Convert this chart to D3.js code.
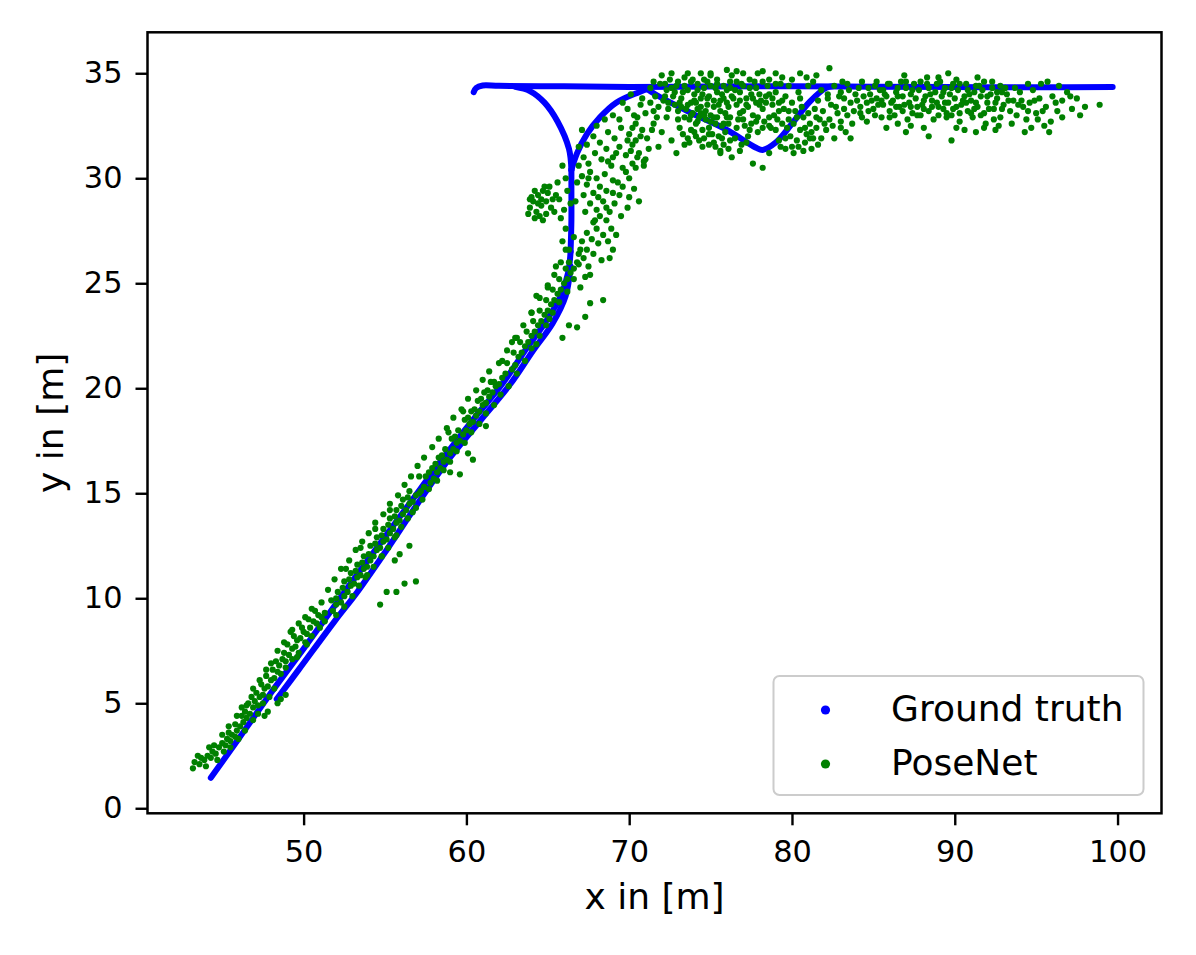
<!DOCTYPE html>
<html>
<head>
<meta charset="utf-8">
<script src="https://cdn.jsdelivr.net/npm/d3@7"></script>
<style>
  body { margin: 0; background: #fff; }
  svg { display: block; font-family: "DejaVu Sans", sans-serif; }
</style>
</head>
<body>
<div id="chartContainer"></div>
<script>
// Ground truth trajectory vs. PoseNet estimates (x/y in metres).
const xTicks = [50, 60, 70, 80, 90, 100];
const yTicks = [0, 5, 10, 15, 20, 25, 30, 35];
const seriesNames = ["Ground truth", "PoseNet"];

// Ground truth track pieces.
const gtDiagA = [[44.3,1.45],[46.0,3.3],[48.0,5.5],[50.0,7.6],[51.5,9.2],[52.7,10.5],[54.5,12.4],[56.5,14.5],[58.5,16.6],[60.4,18.5],[62.2,20.2],[63.7,21.9],[64.9,23.2],[65.8,24.4],[66.25,25.5],[66.4,26.5]];
const gtDiagB = [[48.35,5.2],[49.7,6.6],[51.9,8.9],[53.3,10.3],[55.1,12.3],[57.0,14.5],[59.0,16.7],[60.9,18.5],[62.7,20.2],[64.1,21.8],[65.3,23.1],[66.1,24.4],[66.4,25.8]];
const gtStem = [[66.4,26.5],[66.45,28.0],[66.45,29.5],[66.45,30.4]];
const gtLeftBranch = [[66.45,30.4],[66.3,31.4],[65.6,32.7],[64.8,33.6],[63.9,34.15],[63.0,34.35]];
const gtRightBranch = [[66.45,30.4],[66.8,31.2],[67.4,32.1],[68.2,32.9],[69.2,33.6],[70.6,34.1],[71.3,34.3]];
const gtTopLine = [[60.45,34.1],[60.6,34.3],[61.0,34.42],[62.0,34.4],[66.0,34.38],[70.0,34.35],[75.0,34.37],[80.0,34.38],[85.0,34.36],[90.0,34.34],[95.0,34.33],[99.7,34.35]];
const gtDip = [[71.1,34.25],[71.6,34.0],[73.7,33.15],[76.0,32.3],[77.8,31.45],[78.2,31.35],[79.0,31.7],[80.1,32.7],[81.1,33.65],[82.1,34.3],[82.5,34.38]];

// PoseNet estimates, grouped by stretch of the route.
const poseDiagLow = [[43.2,1.9],[43.3,2.2],[43.6,2.1],[43.7,2.4],[43.9,2.3],[44.1,2.5],[44.3,2.4],[44.4,2.7],[44.6,2.6],[44.8,2.9],[44.5,3.0],[45.0,3.1],[45.2,3.0],[45.3,3.3],[45.5,3.2],[45.6,3.5],[45.4,3.6],[45.8,3.4],[45.9,3.7],[46.1,3.9],[45.8,4.0],[46.3,4.1],
  [46.2,4.4],[46.5,4.3],[46.4,4.6],[46.7,4.5],[46.9,4.8],[46.6,5.0],[47.0,5.1],[47.2,4.9],[47.3,5.3],[47.1,5.5],[47.5,5.4],[47.6,5.7],[47.4,5.9],[47.8,5.8],[48.0,6.1],[47.7,6.3],[48.2,6.2],[48.4,6.5],[46.5,4.9],[47.6,4.4],[47.8,4.6],[48.4,5.0],[48.9,5.4],[48.6,5.2],
  [48.1,6.6],[48.5,6.8],[48.3,7.0],[48.7,7.1],[48.9,7.0],[48.8,7.4],[49.1,7.3],[49.3,7.6],[49.0,7.8],[49.5,7.7],[49.6,8.0],[49.4,8.2],[49.8,8.1],[50.0,8.4],[50.2,8.3],[49.9,8.6],[50.4,8.6],[50.6,8.9],[50.3,9.0],[50.8,8.8],[50.9,9.2],[51.1,9.1],[50.7,9.4],[49.2,8.4],[50.1,7.9],[49.6,7.2],
  [43.5,2.5],[44.0,2.0],[44.7,2.3],[45.1,2.7],[44.2,2.9],[45.5,2.9],[45.0,3.5],[46.0,3.3],[46.4,3.7],[45.4,3.9],
  [45.9,4.4],[46.2,4.8],[46.9,4.2],[47.2,4.5],[46.8,5.3],[47.5,5.0],[46.9,5.7],[47.9,5.3],[47.3,6.1],[48.2,5.7],[47.7,6.6],
  [48.0,6.9],[48.6,6.4],[48.9,6.7],[48.4,7.5],[49.3,7.1],[48.8,7.9],[49.7,7.4],[49.3,8.5],[50.2,7.8],[49.7,8.8],[50.5,8.2],[50.1,9.1],[51.0,8.6],[50.5,9.5],[51.3,8.9]];
const poseDiagMid = [[51.3,9.3],[51.8,9.4],[52.0,9.7],[51.7,9.9],[52.3,9.8],[52.5,10.1],[52.1,10.3],[52.7,10.3],[52.9,10.6],[52.5,10.8],[53.1,10.7],[53.3,11.0],[52.9,11.2],[53.5,11.1],[53.7,11.4],[53.3,11.6],[53.9,11.5],[54.1,11.8],[53.7,12.0],[54.3,12.0],[54.5,12.3],[54.1,12.5],[54.7,12.4],[54.9,12.7],[54.5,12.9],[55.1,12.8],[55.3,13.1],[54.9,13.3],[55.5,13.3],[55.7,13.6],[55.3,13.8],[55.9,13.7],[56.1,14.0],[55.7,14.2],[56.3,14.2],[56.5,14.5],[56.1,14.7],[56.7,14.6],[56.9,14.9],[56.5,15.1],[57.1,15.0],
  [52.0,10.0],[52.4,10.5],[52.8,10.9],[53.2,11.3],[53.6,11.7],[54.0,12.1],[54.4,12.6],[54.8,13.0],[55.2,13.5],[55.6,13.9],[56.0,14.4],[56.4,14.8],[52.6,11.4],[53.5,12.4],[54.4,13.3],[55.3,14.2],[53.9,11.1],[54.8,12.0],[55.7,13.0],[56.7,14.1],
  [51.1,9.8],[52.0,9.2],[51.5,10.4],[52.5,9.6],[51.9,10.9],[53.0,10.1],[52.3,11.4],[53.4,10.6],[52.8,11.8],[53.8,11.0],[53.2,12.3],[54.3,11.5],[53.6,12.7],[54.8,12.0],[54.0,13.1],[55.2,12.4],[54.4,13.6],[55.6,12.9],[54.9,14.0],[56.0,13.4],[55.3,14.5],[56.4,13.8],[55.8,14.9],[56.9,14.3],[56.2,15.4],[57.3,14.7],
  [54.7,9.7],[55.1,10.3],[55.7,10.3],[56.2,10.7],[56.9,10.8],[56.5,12.5],[55.9,12.1],[55.6,11.8]];
const poseDiagHigh = [[57.4,15.3],[57.8,15.5],[57.5,15.8],[58.0,15.7],[58.2,16.0],[57.9,16.2],[58.4,16.2],[58.6,16.5],[58.3,16.7],[58.8,16.6],[59.0,16.9],[58.7,17.1],[59.2,17.1],[59.4,17.4],[59.1,17.6],[59.6,17.5],[59.8,17.8],[59.5,18.0],[60.0,18.0],[60.2,18.3],[59.9,18.5],[60.4,18.4],[60.6,18.7],[60.3,18.9],[60.8,18.9],[61.0,19.2],[60.7,19.4],[61.2,19.3],[61.4,19.6],[61.1,19.8],[61.6,19.8],[61.8,20.1],[61.5,20.3],[62.0,20.2],[62.2,20.5],
  [57.7,16.0],[58.5,16.8],[59.3,17.7],[60.1,18.6],[60.9,19.5],[61.7,20.3],[58.9,17.9],[59.8,18.9],[57.2,15.1],[61.3,19.9],[60.5,19.0],[58.1,16.4],
  [56.6,15.8],[57.7,15.2],[57.0,16.3],[58.2,15.6],[57.4,16.7],[58.6,16.1],[57.9,17.2],[59.0,16.5],[58.3,17.6],[59.4,17.0],[58.8,18.1],[59.9,17.4],[59.2,18.6],[60.3,17.9],[59.7,19.0],[60.8,18.3],[60.1,19.5],[61.2,18.8],[60.6,19.9],[61.7,19.2],[61.0,20.4],[62.1,19.7],[61.4,20.8],[62.6,20.1],
  [59.6,15.9],[60.4,16.6],[60.1,16.9],[59.0,16.0],[61.2,18.2],[57.1,15.8]];
const poseBend = [[62.4,20.7],[62.8,20.9],[62.5,21.2],[63.0,21.1],[63.2,21.5],[62.9,21.7],[63.4,21.7],[63.6,22.0],[63.3,22.2],[63.8,22.2],[64.0,22.5],[63.7,22.7],[64.2,22.7],[64.4,23.0],[64.1,23.2],[64.6,23.2],[64.8,23.5],[64.5,23.7],[65.0,23.7],[65.2,24.0],[64.9,24.2],[65.4,24.2],[65.6,24.5],[65.3,24.7],[65.8,24.7],[66.0,25.0],[65.7,25.2],[66.2,25.2],[66.4,25.5],[66.1,25.7],[66.6,25.7],[66.3,26.0],[66.8,26.0],[62.2,21.3],[63.1,22.4],[64.0,23.6],[65.0,24.9],[65.5,25.8],[64.3,22.1],[65.1,23.3],
  [62.0,21.2],[63.1,20.7],[62.5,21.8],[63.6,21.3],[63.0,22.4],[64.0,21.9],[63.5,23.0],[64.5,22.5],[64.0,23.6],[64.9,23.0],[64.5,24.3],[65.3,23.6],[65.0,24.8],[65.7,24.1],[65.4,25.4],[66.2,24.6],[65.8,26.0],[66.6,25.2],[66.1,26.6],[66.9,26.4],
  [67.3,25.3],[68.4,24.2],[67.6,24.05],[67.3,23.4],[67.0,24.8],[66.3,23.0],[65.9,22.4],[66.8,22.9],[64.3,24.4],[62.8,22.2],
  [63.9,28.6],[64.1,28.9],[64.3,28.4],[64.4,29.2],[64.6,28.7],[64.7,29.4],[64.9,28.9],[65.0,29.3],[65.2,28.6],[64.2,29.4],[64.5,28.2],[65.3,29.0],[64.0,29.1],[64.8,29.6],[63.8,28.3],
  [64.2,28.1],[64.6,29.0],[64.9,28.3],[65.1,29.6],[64.4,28.8],[63.9,29.0],[65.4,28.4],[64.7,28.0],[65.5,29.2],
  [65.9,27.0],[66.1,27.6],[65.8,28.1],[66.0,28.5],[65.7,29.0],[66.2,29.4],[66.4,28.8],[66.1,30.0],[65.6,29.8],[66.6,27.2],[66.3,26.6],[65.9,30.6],
  [66.9,25.9],[67.2,26.2],[67.5,25.8],[67.4,26.6],[67.8,26.4],[68.1,26.9],[67.7,27.1],[68.4,27.3],[68.0,27.6],[68.7,27.0],[68.3,26.1],[67.1,27.0],[68.9,27.6],[69.2,27.3],[68.6,28.0],[67.9,28.0],[69.0,26.6],[67.6,25.4],
  [67.3,28.4],[67.6,28.8],[68.0,28.5],[68.4,28.9],[68.8,28.4],[69.1,28.8],[69.4,29.2],[68.6,29.4],[68.2,29.6],[67.8,29.3],[67.4,29.7],[67.1,30.1],[67.6,30.3],[68.0,30.0],[68.5,30.2],[69.0,29.9],[69.6,29.6],[70.0,29.1],[70.3,29.5],[70.6,28.9],[69.8,30.3],[70.4,30.5],
  [66.9,30.6],[67.2,31.0],[67.5,30.7],[67.9,31.2],[68.3,30.9],[68.6,31.4],[69.0,31.0],[69.4,31.5],[69.8,31.1],[70.2,31.6],[70.6,31.2],[67.4,31.6],[67.8,32.0],[68.2,31.7],[68.7,32.2],[69.1,31.9],[69.5,32.4],[70.0,32.1],[70.4,32.6],[70.8,32.3],[68.0,32.5],[68.5,32.8],[69.0,33.0],[69.4,32.8],[69.9,33.3],[70.3,33.0],[70.7,33.5],[71.0,33.1],[67.1,32.3],[66.9,31.5],[71.1,31.9],[70.9,30.8],
  [70.2,30.7],[70.5,31.0],[70.9,30.6],[71.2,31.4],[70.4,31.8],[70.7,32.0],[71.0,30.9],[70.1,31.3],
  [67.0,26.6],[67.4,27.4],[67.8,27.9],[68.2,28.2],[68.6,28.6],[69.0,29.3],[69.3,29.8],[69.6,30.5],[68.9,30.6],[69.2,31.2],[69.9,31.8],[70.2,32.4],[70.5,32.9],[70.8,33.8],[71.3,33.6],[69.6,33.6],[70.1,34.0],[71.5,33.2],[68.8,26.2],[69.5,28.2],[69.9,28.6],[67.2,29.2],[66.7,28.9],[66.8,29.8],[67.5,30.0],[68.1,29.1],[68.7,30.8],[70.0,30.0],[71.4,32.3],[71.7,32.9]];
const poseTop = [[71.3,34.3],[71.6,33.9],[71.9,34.5],[72.1,33.7],[72.3,34.2],[72.5,34.7],[72.7,33.9],[72.9,34.4],[73.1,33.6],[73.3,34.1],[71.8,33.4],[72.4,33.3],[73.0,33.2],[72.0,34.9],[72.6,35.0],[73.4,34.8],[71.5,34.6],[72.2,33.9],[72.8,34.1],[73.2,33.4],
  [73.6,34.2],[73.8,33.6],[74.0,34.0],[74.2,33.3],[74.4,33.8],[74.6,34.3],[74.8,33.5],[75.0,33.0],[75.2,33.7],[75.4,34.1],[75.6,33.2],[75.8,33.8],[76.0,32.9],[73.7,32.8],[73.9,33.1],[74.1,32.6],[74.3,32.9],[74.5,32.3],[74.7,32.8],[74.9,32.4],[75.1,32.1],[75.3,32.6],[75.5,32.0],[75.7,32.5],[75.9,32.2],[76.1,33.4],[74.0,32.2],[74.6,31.9],[75.2,31.7],[75.8,31.6],[73.5,33.3],[74.2,34.5],[74.8,34.6],[75.4,34.7],[76.0,34.2],[73.9,34.7],[75.0,34.9],[76.2,34.6],[74.4,33.1],[74.9,33.9],[75.5,33.5],[76.1,32.6],[73.8,32.3],[74.3,31.8],[74.7,33.2],[75.2,32.9],[75.7,34.0],[76.3,33.9],[74.1,33.6],[75.9,33.1],[73.6,31.9],[74.5,34.0],[75.3,34.3],[74.9,31.6],[75.6,31.3],[76.2,31.8],[76.0,35.16],[75.0,35.0],
  [76.6,33.5],[76.8,34.1],[77.0,33.2],[77.2,33.8],[77.4,34.3],[77.6,33.0],[77.8,33.6],[78.0,34.0],[78.2,33.3],[78.4,33.9],[78.6,32.9],[78.8,33.5],[79.0,34.1],[79.2,33.2],[79.4,33.7],[76.7,32.8],[77.1,32.5],[77.5,32.6],[77.9,32.2],[78.3,32.7],[78.7,32.4],[79.1,32.8],[76.9,34.5],[77.7,34.6],[78.5,34.4],[79.3,34.5],[77.3,33.4],[78.1,33.7],[78.9,33.0],[76.5,34.2],[77.5,34.0],[78.6,34.0],[79.5,33.3],[76.8,33.1],[77.9,32.9],
  [78.2,35.1],[77.0,35.0],[79.0,35.0],[76.6,35.1],[80.5,35.0],
  [79.9,32.0],[80.1,32.6],[80.3,31.8],[80.5,32.3],[80.7,32.9],[80.9,32.1],[81.1,32.6],[81.3,31.9],[81.5,32.4],[80.2,33.2],[80.6,33.4],[81.0,33.1],[81.4,33.3],[80.4,31.5],[80.8,31.7],[81.2,31.4],[79.7,32.4],[81.7,32.8],[80.0,31.5],[81.6,31.6],[79.6,31.9],
  [77.6,30.7],[78.2,30.5],[76.8,31.3],[77.2,31.7],[78.6,31.2],[79.3,31.5],[76.3,31.0],[75.6,31.2],
  [82.3,35.24],[81.5,34.9],[80.0,34.7],[81.0,34.4],[80.4,34.1],[79.8,34.4],[81.8,34.2],[82.2,33.8],[81.6,33.7],
  [71.5,32.6],[72.0,32.2],[72.6,31.8],[73.1,32.4],[71.8,31.5],[72.9,31.2],[73.4,31.6],[72.3,32.9],
  [72.2,34.5],[72.6,34.3],[73.0,34.6],[73.4,34.4],[73.8,34.6],[74.2,34.2],[74.6,34.7],[75.0,34.4],[75.4,34.5],[75.8,34.4],[76.2,34.3],[76.6,34.6],[77.0,34.4],[77.4,34.7],[77.8,34.3],[78.2,34.6],[78.6,34.7],[79.0,34.5],
  [72.4,33.6],[72.8,33.5],[73.2,33.8],[73.6,33.5],[74.0,33.7],[74.4,33.4],[74.8,33.8],[75.2,33.4],[75.6,33.7],[76.0,33.6],[76.4,33.8],[76.8,33.7],[77.2,33.5],[77.6,33.8],[78.0,33.5],[78.4,33.6],[78.8,33.8],[79.2,33.6],[79.6,33.9],[80.0,33.6],
  [73.0,32.8],[73.4,32.9],[73.8,33.0],[74.2,32.7],[74.6,33.0],[75.0,32.7],[75.4,32.9],[75.8,32.6],[76.2,32.9],[76.6,32.4],[77.0,32.8],[77.4,32.3],[77.8,32.7],[78.2,32.4],[78.6,32.5],[79.0,32.3],[79.4,32.6],[79.8,32.8],
  [73.3,32.1],[73.7,31.7],[74.1,32.0],[74.5,31.5],[74.9,32.1],[75.3,31.5],[75.7,31.9],[76.1,31.4],[76.5,31.9],[76.9,31.6],[77.3,32.0],[79.2,31.8],[79.6,31.4],[80.1,31.2],[80.7,31.3],[81.1,31.9],[81.5,32.9],[80.3,32.9],[80.8,32.4],[81.2,32.2],[79.8,33.2],[80.5,33.8],[81.3,34.6],[80.9,34.8],[79.4,34.8],[77.9,35.0],[76.3,34.9],[74.4,35.0],[73.6,35.0],[81.9,33.2],[82.0,32.6],[81.8,31.9]];
const poseRight = [[82.1,32.3],[82.3,32.8],[82.5,32.5],[82.8,33.1],[83.0,32.7],[83.2,33.3],[83.4,33.0],[83.6,33.6],[83.8,33.2],[84.0,33.7],[84.2,33.4],[84.4,33.9],[82.4,33.5],[82.9,33.9],[83.5,34.2],[84.1,34.3],[82.2,34.0],[83.1,34.6],[82.6,31.9],[83.3,32.2],[84.3,32.9],
  [84.6,33.6],[84.8,34.0],[85.0,33.3],[85.2,33.8],[85.4,34.2],[85.6,33.5],[85.8,33.9],[86.0,33.2],[86.2,33.7],[86.4,34.1],[86.6,33.4],[86.8,33.9],[87.0,34.3],[87.2,33.6],[87.4,33.1],[87.6,33.8],[87.8,34.2],[88.0,33.5],[88.2,33.9],[88.4,33.2],[88.6,33.7],[88.8,34.1],[89.0,33.4],[89.2,33.9],[89.4,34.3],[89.6,33.6],[89.8,33.0],[90.0,33.8],[90.2,34.2],[90.4,33.5],[90.6,33.9],[90.8,33.2],[91.0,33.7],[91.2,34.1],[91.4,33.4],[91.6,33.9],[91.8,33.1],[92.0,33.6],[92.2,34.0],[92.4,33.3],[92.6,33.8],[92.8,32.9],[93.0,33.5],[93.2,34.0],[93.4,33.2],
  [84.7,33.2],[85.1,34.4],[85.5,32.9],[85.9,34.5],[86.3,33.0],[86.7,34.6],[87.1,32.8],[87.5,34.5],[87.9,33.0],[88.3,34.5],[88.7,32.8],[89.1,34.6],[89.5,32.9],[89.9,34.5],[90.3,32.7],[90.7,34.5],[91.1,32.9],[91.5,34.4],[91.9,32.6],[92.3,34.3],[92.7,32.5],[93.1,34.3],
  [84.9,33.7],[85.3,33.5],[85.7,34.0],[86.1,33.6],[86.5,33.9],[86.9,33.5],[87.3,34.0],[87.7,33.4],[88.1,33.7],[88.5,34.0],[88.9,33.6],[89.3,33.3],[89.7,34.0],[90.1,33.4],[90.5,33.7],[90.9,34.0],[91.3,33.6],[91.7,34.2],[92.1,33.3],[92.5,33.6],[92.9,34.1],[89.0,34.8],[89.6,35.0],[90.1,34.7],[88.3,34.8],[91.4,34.8],[86.9,34.9],
  [89.8,31.8],[88.1,32.4],[90.6,32.3],[91.8,32.4],[87.3,32.5],[92.5,32.3],[86.5,32.6],
  [93.6,33.7],[93.8,33.0],[94.0,34.1],[94.2,33.4],[94.4,32.8],[94.6,33.6],[94.8,34.2],[95.0,33.1],[95.2,33.8],[95.3,34.5],[95.5,32.5],[95.8,32.2],[95.6,33.4],[96.0,33.9],[96.3,33.2],[96.6,33.7],[96.9,34.1],[97.2,33.3],[97.7,33.0],[98.0,33.4],[98.9,33.5],[96.4,34.4],[95.1,32.8],[94.7,32.4],[97.5,33.8],
  [82.6,34.4],[83.0,34.1],[83.4,34.5],[83.9,34.0],[84.3,34.6],[84.7,34.3],[85.2,34.6],[85.6,34.2],[86.0,34.5],[86.5,34.3],[87.0,34.6],[87.4,34.2],[87.9,34.6],[88.4,34.3],[88.9,34.5],[89.3,34.1],[89.8,34.3],[90.3,34.5],[90.8,34.2],[91.3,34.4],[91.8,34.6],[92.3,34.6],[92.8,34.4],
  [82.7,33.4],[83.2,33.8],[83.7,32.6],[84.2,33.1],[84.6,32.7],[85.1,33.0],[85.5,33.7],[86.0,32.9],[86.4,33.4],[86.8,33.2],[87.3,33.4],[87.7,33.0],[88.1,33.3],[88.6,33.4],[89.0,33.0],[89.4,33.6],[89.9,33.3],[90.3,33.1],[90.7,33.6],[91.2,33.3],[91.6,33.0],[92.0,33.9],[92.4,32.8],[92.9,33.3],[93.3,33.7],[93.7,34.3],[94.1,33.7],[94.5,33.2],[94.9,33.7],
  [83.0,32.4],[83.6,31.9],[85.8,32.4],[87.0,32.2],[88.4,32.0],[90.1,32.4],[91.3,32.2],[93.5,32.6],[94.3,32.2],[95.4,33.2],[95.9,32.7],[96.6,32.9],[97.1,33.9],[95.7,34.6],[94.5,34.5],[96.2,33.6],[93.9,33.5],[92.6,34.1],[91.0,33.1],[89.5,33.1]];

const gtColor = "#0000ff";
const poseColor = "#008000";

// Layout of the axes box inside the 1196x955 page.
const W = 1196, H = 955;
const plot = { left: 147.5, right: 1161.5, top: 32.3, bottom: 813.3 };

const svg = d3.select("#chartContainer")
    .append("svg")
    .attr("width", W)
    .attr("height", H);

svg.append("rect").attr("width", W).attr("height", H).attr("fill", "#fff");

const x = d3.scaleLinear().domain([40.41, 102.70]).range([plot.left, plot.right]);
const y = d3.scaleLinear().domain([-0.24, 36.95]).range([plot.bottom, plot.top]);

// Ground truth: dense scatter in the original, drawn here as thick strokes.
const line = d3.line()
    .x(d => x(d[0]))
    .y(d => y(d[1]))
    .curve(d3.curveCatmullRom.alpha(0.5));

const gtPieces = [gtDiagA, gtDiagB, gtStem, gtLeftBranch, gtRightBranch, gtTopLine, gtDip];
svg.append("g")
    .selectAll("path")
    .data(gtPieces)
    .enter()
    .append("path")
    .attr("d", line)
    .attr("fill", "none")
    .attr("stroke", gtColor)
    .attr("stroke-width", 6)
    .attr("stroke-linecap", "round")
    .attr("stroke-linejoin", "round");

// PoseNet points on top.
const posePoints = [].concat(poseDiagLow, poseDiagMid, poseDiagHigh, poseBend, poseTop, poseRight);
svg.append("g")
    .selectAll("circle")
    .data(posePoints)
    .enter()
    .append("circle")
    .attr("cx", d => x(d[0]))
    .attr("cy", d => y(d[1]))
    .attr("r", 3.1)
    .attr("fill", poseColor);

// Axes.
const xAxis = d3.axisBottom(x).tickValues(xTicks).tickSize(12).tickPadding(15);
const gx = svg.append("g")
    .attr("transform", `translate(0,${plot.bottom})`)
    .call(xAxis);

const yAxis = d3.axisLeft(y).tickValues(yTicks).tickSize(12).tickPadding(13);
const gy = svg.append("g")
    .attr("transform", `translate(${plot.left},0)`)
    .call(yAxis);

[gx, gy].forEach(g => {
    g.select(".domain").remove();
    g.selectAll("line").attr("stroke", "#000").attr("stroke-width", 2.4);
    g.selectAll("text")
        .attr("fill", "#000")
        .style("font-family", "DejaVu Sans")
        .style("font-size", "30.4px");
});

// Frame around the plot.
svg.append("rect")
    .attr("x", plot.left)
    .attr("y", plot.top)
    .attr("width", plot.right - plot.left)
    .attr("height", plot.bottom - plot.top)
    .attr("fill", "none")
    .attr("stroke", "#000")
    .attr("stroke-width", 2.5);

// Axis labels.
svg.append("text")
    .attr("x", (plot.left + plot.right) / 2)
    .attr("y", 909)
    .attr("text-anchor", "middle")
    .style("font-size", "36px")
    .text("x in [m]");

svg.append("text")
    .attr("transform", `translate(63,${(plot.top + plot.bottom) / 2}) rotate(-90)`)
    .attr("text-anchor", "middle")
    .style("font-size", "36px")
    .text("y in [m]");

// Legend box in the lower right corner.
const legend = svg.append("g");
legend.append("rect")
    .attr("x", 773.5)
    .attr("y", 676)
    .attr("width", 370)
    .attr("height", 119)
    .attr("rx", 6)
    .attr("fill", "#fff")
    .attr("fill-opacity", 0.8)
    .attr("stroke", "#cccccc")
    .attr("stroke-width", 2);

const legendColors = [gtColor, poseColor];
seriesNames.forEach((name, i) => {
    const cy = 710 + i * 54;
    legend.append("circle")
        .attr("cx", 825.5)
        .attr("cy", cy)
        .attr("r", 4.6)
        .attr("fill", legendColors[i]);
    legend.append("text")
        .attr("x", 891)
        .attr("y", cy + 11)
        .style("font-size", "36px")
        .text(name);
});
</script>
</body>
</html>
